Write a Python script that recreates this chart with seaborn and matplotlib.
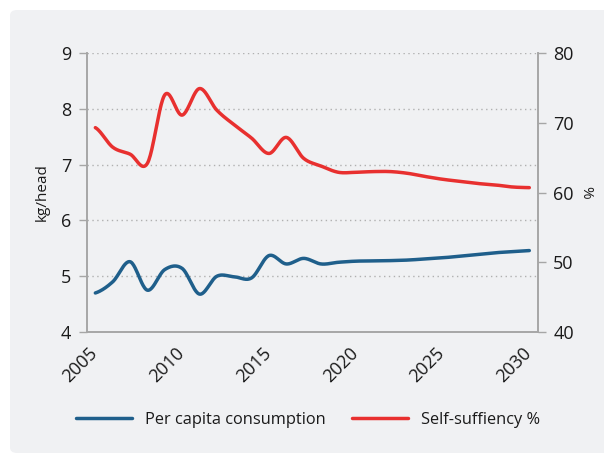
import numpy as np
import matplotlib
matplotlib.use("Agg")
import matplotlib.pyplot as plt
import seaborn as sns
from matplotlib.patches import FancyBboxPatch
from matplotlib.lines import Line2D

# values
years = list(range(2005, 2031))
per_capita = [4.70, 4.90, 5.26, 4.75, 5.12, 5.14, 4.68, 5.00, 4.99, 4.97, 5.37, 5.22,
              5.32, 5.22, 5.25, 5.27, 5.275, 5.28, 5.29, 5.31, 5.33, 5.36, 5.39, 5.42,
              5.44, 5.46]
self_suff = [69.3, 66.5, 65.5, 64.2, 74.0, 71.1, 74.9, 71.8, 69.7, 67.8, 65.6, 67.9,
             64.9, 63.8, 62.9, 62.9, 63.0, 63.0, 62.75, 62.3, 61.9, 61.6, 61.3, 61.1,
             60.8, 60.7]
xtick_labels = ["2005", "2010", "2015", "2020", "2025", "2030"]

BLUE = "#1f5f8b"
RED = "#e8302f"
GREY = "#a6a6a6"
BG = "#f0f1f3"
TXT = "#1a1a1a"


def smooth(y, n=24):
    # Catmull-Rom curve through the points (like Excel's smoothed line)
    y = np.asarray(y, dtype=float)
    p = np.concatenate([[y[0]], y, [y[-1]]])
    xs, ys = [], []
    t = np.linspace(0, 1, n, endpoint=False)
    for i in range(len(y) - 1):
        p0, p1, p2, p3 = p[i], p[i + 1], p[i + 2], p[i + 3]
        c1 = p1 + (p2 - p0) / 6
        c2 = p2 - (p3 - p1) / 6
        seg = (1 - t) ** 3 * p1 + 3 * (1 - t) ** 2 * t * c1 + 3 * (1 - t) * t ** 2 * c2 + t ** 3 * p2
        xs.extend(i + t)
        ys.extend(seg)
    xs.append(len(y) - 1)
    ys.append(y[-1])
    return np.array(xs), np.array(ys)


sns.set_style("white")
plt.rcParams["font.family"] = ["Open Sans", "DejaVu Sans"]

fig = plt.figure(figsize=(6.04, 4.53), dpi=100)
fig.patch.set_facecolor("white")
box = FancyBboxPatch((10 / 604, 0), 1.2, 1 - 10 / 453, boxstyle="round,pad=0,rounding_size=0.012",
                     transform=fig.transFigure, facecolor=BG, edgecolor="none", zorder=-10)
fig.patches.append(box)

ax = fig.add_axes([0.1435, 0.267, 0.7472, 0.616])
ax.set_facecolor("none")
ax2 = ax.twinx()
ax2.set_facecolor("none")

x1, y1 = smooth(per_capita)
x2, y2 = smooth(self_suff)
sns.lineplot(x=x1, y=y1, ax=ax, color=BLUE, linewidth=2.5, sort=False, estimator=None)
sns.lineplot(x=x2, y=y2, ax=ax2, color=RED, linewidth=2.5, sort=False, estimator=None)

ax.set_xlim(-0.5, len(years) - 0.5)
ax.set_ylim(4, 9)
ax2.set_ylim(40, 80)
ax.set_yticks([4, 5, 6, 7, 8, 9])
ax2.set_yticks([40, 50, 60, 70, 80])

# labels sit slightly left of the category centre, as in the original
ax.set_xticks(np.arange(0, len(years), 5) - 0.4)
ax.set_xticklabels(xtick_labels, rotation=45, ha="right", rotation_mode="anchor",
                   fontsize=13, color=TXT)
ax.set_xticks(np.arange(-0.5, len(years) + 0.5, 1), minor=True)
ax.tick_params(axis="x", which="major", length=0, pad=9)
ax.tick_params(axis="x", which="minor", length=6, color=GREY, width=1)
ax.tick_params(axis="y", length=6, color=GREY, width=1, labelsize=13, labelcolor=TXT, pad=5)
ax2.tick_params(axis="y", length=6, color=GREY, width=1, labelsize=13, labelcolor=TXT, pad=5)

for v in [5, 6, 7, 8, 9]:
    ax.axhline(v, color="#b0b0b0", linestyle=(0, (1, 2.5)), linewidth=1, zorder=0)

for a in (ax, ax2):
    a.spines["top"].set_visible(False)
    for s in ("left", "right", "bottom"):
        a.spines[s].set_color(GREY)
        a.spines[s].set_linewidth(1.2)
    a.set_xlabel("")

ax.set_ylabel("kg/head", fontsize=11, color=TXT, labelpad=8)
ax2.set_ylabel("%", fontsize=11, color=TXT, rotation=270, labelpad=14)

handles = [Line2D([], [], color=BLUE, linewidth=2.5), Line2D([], [], color=RED, linewidth=2.5)]
leg = fig.legend(handles, ["Per capita consumption", "Self-suffiency %"], loc="center",
                 bbox_to_anchor=(0.51, 0.073), ncol=2, frameon=False, fontsize=11.8,
                 handlelength=3.4, columnspacing=1.6, handletextpad=0.8)
for t in leg.get_texts():
    t.set_color(TXT)

fig.savefig("out.png", dpi=100, facecolor=fig.get_facecolor())
